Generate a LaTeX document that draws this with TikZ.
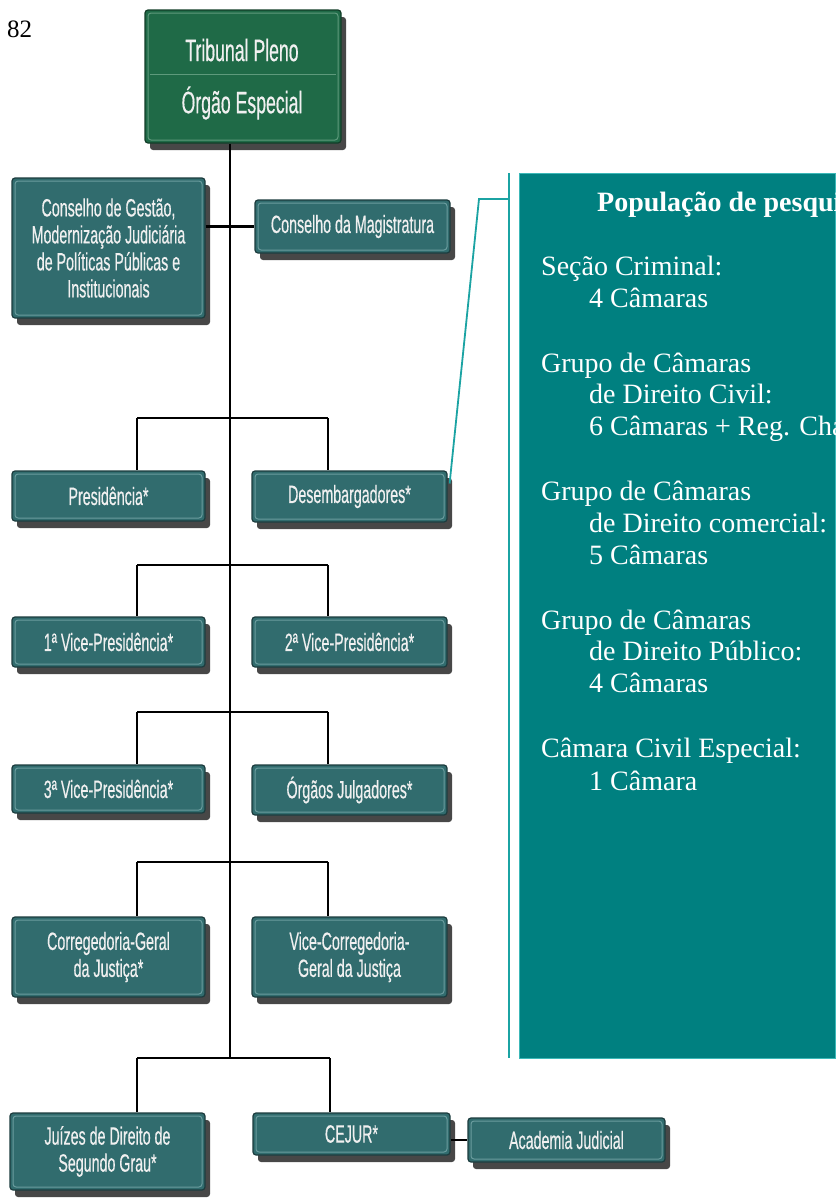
\documentclass[tikz,border=0pt]{standalone}
\usepackage{fontspec}
\setmainfont{Liberation Serif}
\newfontfamily\unitfont[FakeStretch=0.57,FakeBold=0.4]{Liberation Sans}
\usetikzlibrary{shadows,calc}

\definecolor{unitfill}{HTML}{316C6E}
\definecolor{unitedge}{HTML}{1C3C3E}
\definecolor{unitline}{HTML}{6A9C9E}
\definecolor{tribfill}{HTML}{1F6A47}
\definecolor{tribedge}{HTML}{123D28}
\definecolor{tribline}{HTML}{5E9A7C}
\definecolor{shadowgray}{HTML}{333333}
\definecolor{panelfill}{HTML}{008080}
\definecolor{paneledge}{HTML}{3CB8B8}
\definecolor{calloutline}{HTML}{1BA3A3}

\begin{document}
\begin{tikzpicture}[x=1pt,y=-1pt,
  boxbase/.style={rounded corners=3pt, line width=1.2pt, inner sep=0pt,
    align=center, text=white!94!black,
    drop shadow={shadow xshift=5pt, shadow yshift=-7pt, fill=shadowgray, opacity=0.9}},
  unit/.style={boxbase, draw=unitedge, fill=unitfill,
    font=\unitfont\fontsize{25}{27}\selectfont,
    path picture={\draw[unitline, line width=1pt]
      ([shift={(3pt,-3pt)}]path picture bounding box.north west) rectangle
      ([shift={(-3pt,3pt)}]path picture bounding box.south east);}},
  tribunal/.style={boxbase, draw=tribedge, fill=tribfill,
    path picture={\draw[tribline, line width=1pt]
      ([shift={(3pt,-3pt)}]path picture bounding box.north west) rectangle
      ([shift={(-3pt,3pt)}]path picture bounding box.south east);}},
  tribtext/.style={text=white!94!black, inner sep=0pt,
    font=\unitfont\fontsize{31}{33}\selectfont},
  conn/.style={line width=2.8pt, black},
  panelline/.style={line width=1.8pt, calloutline},
  paneltext/.style={text=white, inner sep=0pt, font=\fontsize{28}{32}\selectfont},
  paneltitle/.style={paneltext, font=\bfseries\fontsize{28}{32}\selectfont}
]
\useasboundingbox (0,0) rectangle (836,1203);

% page number
\node[anchor=base, inner sep=0pt, font=\fontsize{25}{25}\selectfont] (pnum) at (19.5,37) {82};

% top box: Tribunal Pleno / Órgão Especial
\node[tribunal, minimum width=196, minimum height=133] (trib) at (243,76.5) {};
\node[tribtext] (tp) at (242,50) {Tribunal Pleno};
\node[tribtext] (oe) at (242,103) {Órgão Especial};
\coordinate (tdiv) at (243,74);
\draw[tribline, line width=1pt] ([xshift=6pt]trib.west |- tdiv) -- ([xshift=-6pt]trib.east |- tdiv);

% councils
\node[unit, minimum width=193, minimum height=140] (gest) at (108.5,248)
  {Conselho de Gestão,\\Modernização Judiciária\\de Políticas Públicas e\\Institucionais};
\node[unit, minimum width=195, minimum height=53] (mag) at (352.5,226.5) {Conselho da Magistratura};

% units, left and right columns
\node[unit, minimum width=193, minimum height=50] (pres) at (108.5,496) {Presidência*};
\node[unit, minimum width=195, minimum height=51] (desb) at (349.5,496.5) {Desembargadores*};
\node[unit, minimum width=193, minimum height=50] (vp1) at (108.5,642) {1ª Vice-Presidência*};
\node[unit, minimum width=195, minimum height=50] (vp2) at (349.5,642) {2ª Vice-Presidência*};
\node[unit, minimum width=193, minimum height=48] (vp3) at (108.5,789) {3ª Vice-Presidência*};
\node[unit, minimum width=195, minimum height=50] (julg) at (349.5,790) {Órgãos Julgadores*};
\node[unit, minimum width=193, minimum height=80] (corr) at (108.5,957) {Corregedoria-Geral\\da Justiça*};
\node[unit, minimum width=195, minimum height=80] (vcorr) at (349.5,957) {Vice-Corregedoria-\\Geral da Justiça};
\node[unit, minimum width=195, minimum height=77] (juiz) at (107.5,1151.5) {Juízes de Direito de\\Segundo Grau*};
\node[unit, minimum width=197, minimum height=42] (cejur) at (351.5,1134) {CEJUR*};
\node[unit, minimum width=197, minimum height=44] (acad) at (566.5,1140) {Academia Judicial};

% trunk and bus bars
\coordinate (trunk) at (230,143);
\coordinate (b1l) at (137,418);  \coordinate (b1r) at (328,418);
\coordinate (b2l) at (137,565);  \coordinate (b2r) at (328,565);
\coordinate (b3l) at (137,712);  \coordinate (b3r) at (328,712);
\coordinate (b4l) at (137,862);  \coordinate (b4r) at (328,862);
\coordinate (b5l) at (137,1058); \coordinate (b5r) at (330,1058);

% connectors
\draw[conn] (trunk |- trib.south) -- (trunk |- b5l);
\draw[conn] (gest.east |- mag.west) -- (mag.west);
\draw[conn] (b1l) -- (b1r);
\draw[conn] (b1l) -- (b1l |- pres.north);
\draw[conn] (b1r) -- (b1r |- desb.north);
\draw[conn] (b2l) -- (b2r);
\draw[conn] (b2l) -- (b2l |- vp1.north);
\draw[conn] (b2r) -- (b2r |- vp2.north);
\draw[conn] (b3l) -- (b3r);
\draw[conn] (b3l) -- (b3l |- vp3.north);
\draw[conn] (b3r) -- (b3r |- julg.north);
\draw[conn] (b4l) -- (b4r);
\draw[conn] (b4l) -- (b4l |- corr.north);
\draw[conn] (b4r) -- (b4r |- vcorr.north);
\draw[conn] (b5l) -- (b5r);
\draw[conn] (b5l) -- (b5l |- juiz.north);
\draw[conn] (b5r) -- (b5r |- cejur.north);
\draw[conn] (cejur.east |- acad.west) -- (acad.west);

% research population panel with its callout
\coordinate (pv1) at (509,173);
\coordinate (pv2) at (509,1058);
\coordinate (ck1) at (479,199);
\coordinate (ck2) at (509,199);
\draw[panelline] (pv1) -- (pv2);
\draw[panelline] ([shift={(2pt,13pt)}]desb.east) -- (ck1) -- (ck2);
\node[draw=paneledge, line width=1pt, fill=panelfill, inner sep=0pt,
  minimum width=316, minimum height=885, anchor=north west] (panel) at (519,173) {};

\begin{scope}
  \clip (panel.north west) rectangle (panel.south east);
  \node[paneltitle, anchor=base west] (ptitle) at (597,211) {População de pesquisa};
  \foreach \yy/\xx/\tt [count=\i] in {
      275/541/{Seção Criminal:},
      307/589/{4 Câmaras},
      372/541/{Grupo de Câmaras},
      403/589/{de Direito Civil:},
      435/589/{6 Câmaras + Reg. Cha},
      500/541/{Grupo de Câmaras},
      532/589/{de Direito comercial:},
      564/589/{5 Câmaras},
      629/541/{Grupo de Câmaras},
      660/589/{de Direito Público:},
      692/589/{4 Câmaras},
      757/541/{Câmara Civil Especial:},
      790/589/{1 Câmara}}
    \node[paneltext, anchor=base west] (pl\i) at (\xx,\yy) {\tt};
\end{scope}

\end{tikzpicture}
\end{document}
